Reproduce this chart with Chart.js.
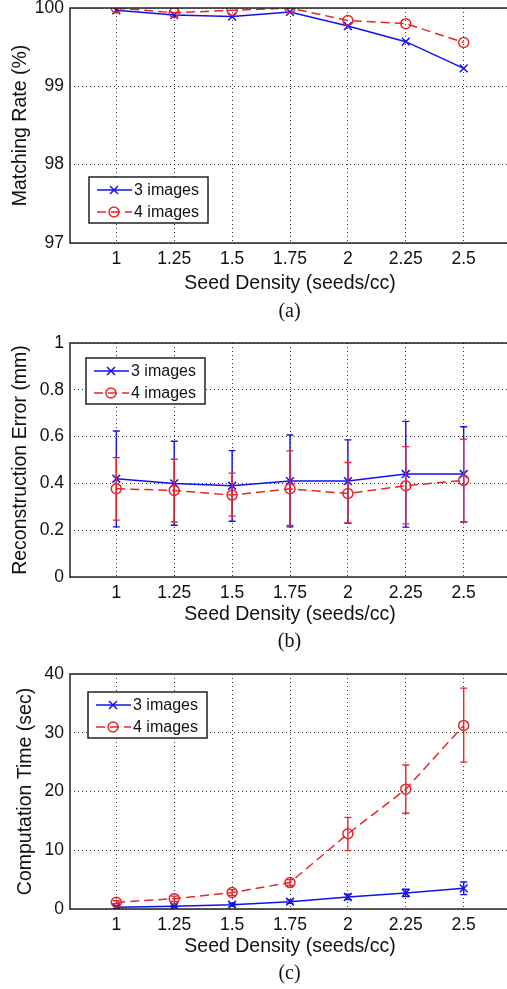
<!DOCTYPE html>
<html>
<head>
<meta charset="utf-8">
<script src="https://cdn.jsdelivr.net/npm/chart.js@4.4.0/dist/chart.umd.min.js"></script>
<style>
body{margin:0;background:#fff;width:507px;height:989px;overflow:hidden;position:relative}
.panel{position:absolute;left:0;width:517px;height:300px}
.panel canvas{display:block}
.cap{position:absolute;left:70px;width:439px;text-align:center;font-family:"Liberation Serif",serif;font-size:20px;line-height:24px;color:#111}
</style>
</head>
<body>
<div class="panel" style="top:0"><canvas id="chA" width="517" height="300"></canvas></div>
<div class="cap" style="top:298px">(a)</div>
<div class="panel" style="top:330px"><canvas id="chB" width="517" height="300"></canvas></div>
<div class="cap" style="top:628px">(b)</div>
<div class="panel" style="top:660px"><canvas id="chC" width="517" height="300"></canvas></div>
<div class="cap" style="top:960px">(c)</div>
<script>
// seed density (seeds/cc)
const densities = [1, 1.25, 1.5, 1.75, 2, 2.25, 2.5];
const densityLabels = ["1", "1.25", "1.5", "1.75", "2", "2.25", "2.5"];
const seriesNames = ["3 images", "4 images"];

// (a) matching rate (%)
const rate3 = [99.97, 99.91, 99.89, 99.95, 99.77, 99.57, 99.23];
const rate4 = [100.0, 99.94, 99.97, 100.0, 99.84, 99.80, 99.56];

// (b) reconstruction error (mm), mean + bar ends
const recon3 = [0.42, 0.40, 0.39, 0.41, 0.41, 0.44, 0.44];
const recon3Lo = [0.214, 0.221, 0.238, 0.214, 0.23, 0.213, 0.235];
const recon3Hi = [0.624, 0.58, 0.54, 0.607, 0.586, 0.665, 0.642];
const recon4 = [0.377, 0.37, 0.35, 0.377, 0.357, 0.39, 0.413];
const recon4Lo = [0.243, 0.235, 0.26, 0.22, 0.231, 0.227, 0.235];
const recon4Hi = [0.51, 0.503, 0.444, 0.539, 0.489, 0.557, 0.589];

// (c) computation time (sec)
const time3 = [0.3, 0.45, 0.74, 1.25, 2.05, 2.73, 3.52];
const time3Lo = [0.1, 0.25, 0.5, 0.95, 1.6, 2.1, 2.44];
const time3Hi = [0.5, 0.65, 0.98, 1.55, 2.5, 3.35, 4.6];
const time4 = [1.14, 1.76, 2.8, 4.5, 12.8, 20.4, 31.25];
const time4Lo = [0.9, 1.3, 2.3, 4.0, 9.94, 16.3, 25.0];
const time4Hi = [1.4, 2.2, 3.3, 5.0, 15.6, 24.5, 37.6];

const BLUE = "#1010f0";
const RED = "#e8262a";
const FONT = "'Liberation Sans', Arial, sans-serif";

// error bars, drawn right after their own line
const errorBars = {
  id: "errorBars",
  afterDatasetDraw(chart, args) {
    const ds = chart.data.datasets[args.index];
    if (!ds.lo) return;
    const { ctx, scales: { x, y } } = chart;
    ctx.save();
    ctx.strokeStyle = ds.borderColor;
    ctx.lineWidth = 1.4;
    ctx.setLineDash([]);
    ds.data.forEach((p, i) => {
      const px = x.getPixelForValue(p.x);
      const y1 = y.getPixelForValue(ds.lo[i]);
      const y2 = y.getPixelForValue(ds.hi[i]);
      ctx.beginPath();
      ctx.moveTo(px, y1); ctx.lineTo(px, y2);
      ctx.moveTo(px - 3.5, y1); ctx.lineTo(px + 3.5, y1);
      ctx.moveTo(px - 3.5, y2); ctx.lineTo(px + 3.5, y2);
      ctx.stroke();
    });
    ctx.restore();
  }
};

function drawMarker(ctx, kind, x, y) {
  ctx.beginPath();
  if (kind === "crossRot") {
    ctx.moveTo(x - 4, y - 4); ctx.lineTo(x + 4, y + 4);
    ctx.moveTo(x - 4, y + 4); ctx.lineTo(x + 4, y - 4);
  } else {
    ctx.arc(x, y, 5, 0, Math.PI * 2);
  }
  ctx.stroke();
}

// matlab style box + legend inside the axes
const frameLegend = {
  id: "frameLegend",
  afterDraw(chart, args, opts) {
    const { ctx, chartArea: a } = chart;
    ctx.save();
    ctx.strokeStyle = "#222";
    ctx.lineWidth = 1.5;
    ctx.setLineDash([]);
    ctx.strokeRect(a.left, a.top, a.right - a.left, a.bottom - a.top);

    const bx = a.left + opts.dx, by = a.top + opts.dy;
    ctx.fillStyle = "#fff";
    ctx.fillRect(bx, by, 119, 46);
    ctx.strokeRect(bx, by, 119, 46);
    chart.data.datasets.forEach((ds, i) => {
      const ry = by + 13 + i * 22;
      ctx.strokeStyle = ds.borderColor;
      ctx.lineWidth = 1.5;
      ctx.setLineDash(ds.borderDash || []);
      ctx.beginPath();
      ctx.moveTo(bx + 8, ry); ctx.lineTo(bx + 43, ry);
      ctx.stroke();
      ctx.setLineDash([]);
      drawMarker(ctx, ds.pointStyle, bx + 25, ry);
      ctx.fillStyle = "#111";
      ctx.font = "16px " + FONT;
      ctx.textBaseline = "middle";
      ctx.fillText(ds.label, bx + 45, ry + 1);
    });
    ctx.restore();
  }
};

function pts(vals) {
  return densities.map((x, i) => ({ x, y: vals[i] }));
}

function series(idx, vals, lo, hi) {
  const blue = idx === 0;
  return {
    label: seriesNames[idx],
    data: pts(vals),
    lo, hi,
    borderColor: blue ? BLUE : RED,
    backgroundColor: "transparent",
    borderWidth: 1.5,
    borderDash: blue ? [] : [9, 5],
    pointStyle: blue ? "crossRot" : "circle",
    pointRadius: blue ? 5.5 : 5,
    pointBorderWidth: 1.5,
    pointBackgroundColor: "transparent",
    tension: 0,
    order: blue ? 2 : 1
  };
}

function makeChart(id, cfg) {
  new Chart(document.getElementById(id), {
    type: "line",
    data: { datasets: cfg.datasets },
    plugins: [errorBars, frameLegend],
    options: {
      responsive: false,
      animation: false,
      layout: { padding: { left: 0, top: cfg.top, right: 0, bottom: 0 } },
      plugins: {
        legend: { display: false },
        tooltip: { enabled: false },
        frameLegend: { dx: cfg.legend[0], dy: cfg.legend[1] }
      },
      scales: {
        x: {
          type: "linear",
          min: 0.8,
          max: 2.7,
          afterBuildTicks: s => { s.ticks = densities.map(v => ({ value: v })); },
          afterFit: s => { s.height = cfg.xHeight; s.paddingLeft = 0; s.paddingRight = 0; },
          ticks: {
            autoSkip: false,
            maxRotation: 0,
            padding: 6,
            color: "#111",
            font: { family: FONT, size: 17.5 },
            callback: v => densityLabels[densities.indexOf(v)]
          },
          grid: { color: "#333", lineWidth: 1, drawTicks: false },
          border: { display: false, dash: [1, 3] },
          title: {
            display: true,
            text: "Seed Density (seeds/cc)",
            color: "#111",
            font: { family: FONT, size: 19.5 },
            padding: { top: 0, bottom: cfg.xTitlePad }
          }
        },
        y: {
          min: cfg.yMin,
          max: cfg.yMax,
          afterFit: s => { s.width = 70; s.paddingTop = 0; s.paddingBottom = 0; },
          ticks: {
            stepSize: cfg.yStep,
            padding: 6,
            color: "#111",
            font: { family: FONT, size: 17.5 },
            callback: v => String(+v.toFixed(2))
          },
          grid: { color: "#333", lineWidth: 1, drawTicks: false },
          border: { display: false, dash: [1, 3] },
          title: {
            display: true,
            text: cfg.yTitle,
            color: "#111",
            font: { family: FONT, size: 19.5 },
            padding: { top: 9 + cfg.yTitleShift, bottom: 0 }
          }
        }
      }
    }
  });
}

makeChart("chA", {
  datasets: [series(0, rate3), series(1, rate4)],
  yMin: 97, yMax: 100, yStep: 1,
  yTitle: "Matching Rate (%)",
  top: 8, xHeight: 57, xTitlePad: 5, yTitleShift: 0,
  legend: [19, 169]
});

makeChart("chB", {
  datasets: [series(0, recon3, recon3Lo, recon3Hi), series(1, recon4, recon4Lo, recon4Hi)],
  yMin: 0, yMax: 1, yStep: 0.2,
  yTitle: "Reconstruction Error (mm)",
  top: 13, xHeight: 53, xTitlePad: 4, yTitleShift: 0,
  legend: [16, 15]
});

makeChart("chC", {
  datasets: [series(0, time3, time3Lo, time3Hi), series(1, time4, time4Lo, time4Hi)],
  yMin: 0, yMax: 40, yStep: 10,
  yTitle: "Computation Time (sec)",
  top: 14, xHeight: 51, xTitlePad: 2, yTitleShift: 5,
  legend: [18, 18]
});
</script>
</body>
</html>
